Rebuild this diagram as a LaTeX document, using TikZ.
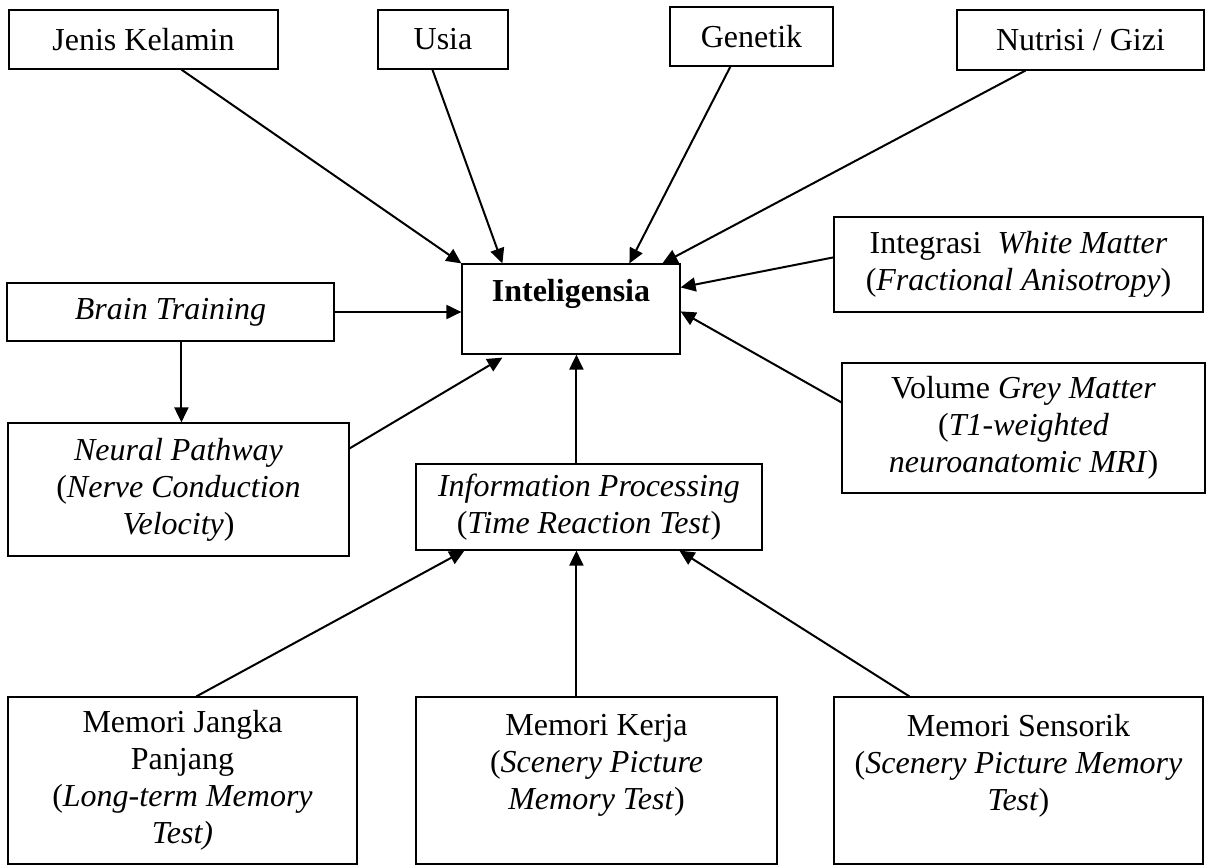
\documentclass[tikz,border=0pt]{standalone}
\usepackage{fontspec}
\setmainfont{Liberation Serif}
\usetikzlibrary{arrows.meta,calc}
\tikzset{
  box/.style={draw, line width=1.2pt, inner sep=0pt, align=center,
    font=\fontsize{32}{37}\selectfont},
  arr/.style={line width=2pt, -{Triangle[length=15pt,width=14pt]}}
}
\begin{document}
\begin{tikzpicture}[x=1pt,y=-1pt]
\useasboundingbox (0,0) rectangle (1207,867);
% top row
\node[box, minimum width=269pt, minimum height=59pt] (jk) at (143.5,39.5) {Jenis Kelamin};
\node[box, minimum width=130pt, minimum height=59pt] (usia) at (443,39.5) {Usia};
\node[box, minimum width=163pt, minimum height=59pt] (gen) at (751.5,36.5) {Genetik};
\node[box, minimum width=247pt, minimum height=60pt] (nut) at (1080.5,40) {Nutrisi / Gizi};
% centre
\node[box, minimum width=218pt, minimum height=90pt] (int) at (571,309) {\textbf{Inteligensia}\\\mbox{}};
\node[box, minimum width=327pt, minimum height=58pt] (bt) at (170.5,312) {\textit{Brain Training}};
\node[box, minimum width=369pt, minimum height=95pt] (wm) at (1018.5,264.5) {Integrasi\ \ \textit{White Matter}\\(\textit{Fractional Anisotropy})};
\node[box, minimum width=363pt, minimum height=130pt] (gm) at (1023.5,428) {Volume \textit{Grey Matter}\\(\textit{T1-weighted}\\\textit{neuroanatomic MRI})};
\node[box, minimum width=341pt, minimum height=133pt] (np) at (178.5,489.5) {\textit{Neural Pathway}\\(\textit{Nerve Conduction}\\\textit{Velocity})};
\node[box, minimum width=346pt, minimum height=86pt] (ip) at (589,507) {\textit{Information Processing}\\(\textit{Time Reaction Test})};
% bottom row
\node[box, minimum width=349pt, minimum height=167pt] (mjp) at (182.5,780.5) {Memori Jangka\\Panjang\\(\textit{Long-term Memory}\\\textit{Test)}};
\node[box, minimum width=361pt, minimum height=167pt] (mk) at (596.5,780.5) {Memori Kerja\\(\textit{Scenery Picture}\\\textit{Memory Test})\\\mbox{}};
\node[box, minimum width=369pt, minimum height=167pt] (ms) at (1018.5,780.5) {Memori Sensorik\\(\textit{Scenery Picture Memory}\\\textit{Test})\\\mbox{}};
% connectors
\draw[arr] ($(jk.south west)+(173,0)$) -- (int.north west);
\draw[arr] ($(usia.south west)+(55,0)$) -- ($(int.north west)+(41,0)$);
\draw[arr] ($(gen.south west)+(61,0)$) -- ($(int.north west)+(168,0)$);
\draw[arr] ($(nut.south west)+(69,0)$) -- ($(int.north west)+(201,0)$);
\draw[arr] ($(wm.north west)+(0,41)$) -- ($(int.north east)+(0,24)$);
\draw[arr] ($(gm.north west)+(0,40)$) -- ($(int.north east)+(0,48)$);
\draw[arr] (bt.east) -- (bt.east -| int.west);
\coordinate (btb) at ($(bt.south west)+(175,0)$);
\draw[arr] (btb) -- (btb |- np.north);
\draw[arr] ($(np.north east)+(0,26)$) -- ($(int.south west)+(41,3)$);
\coordinate (ipt) at ($(ip.north west)+(161,0)$);
\draw[arr] (ipt) -- (ipt |- int.south);
\draw[arr] ($(mjp.north west)+(189,0)$) -- ($(ip.south west)+(49,0)$);
\coordinate (mkt) at ($(mk.north west)+(161,0)$);
\draw[arr] (mkt) -- (mkt |- ip.south);
\draw[arr] ($(ms.north west)+(76,0)$) -- ($(ip.south west)+(264,0)$);
\end{tikzpicture}
\end{document}
